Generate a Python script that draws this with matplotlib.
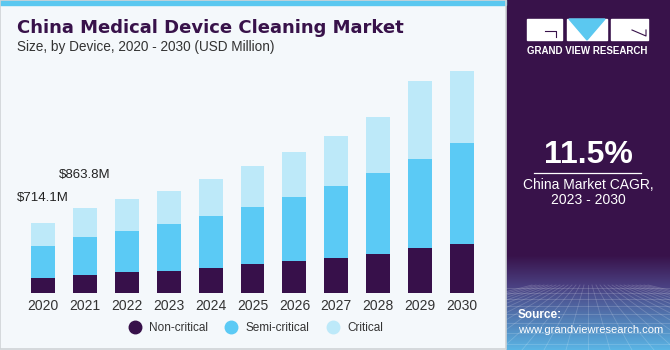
import numpy as np
import matplotlib
matplotlib.use("Agg")
import matplotlib.pyplot as plt
from matplotlib.lines import Line2D
from matplotlib.patches import Rectangle, Polygon
from matplotlib.colors import to_rgb

plt.rcParams['font.family'] = ['Liberation Sans', 'DejaVu Sans']

# data (USD Million)
years = ['2020', '2021', '2022', '2023', '2024', '2025',
         '2026', '2027', '2028', '2029', '2030']
non_critical = [153.0, 184.0, 214, 224, 255, 296, 326, 357, 398, 459, 500]
semi_critical = [326.5, 388.0, 418, 479, 530, 581, 653, 734, 826, 908, 1030]
critical = [234.6, 291.8, 326, 337, 377, 418, 459, 510, 571, 796, 734]
series_names = ['Non-critical', 'Semi-critical', 'Critical']
labels = {0: '$714.1M', 1: '$863.8M'}

c_non = '#37104a'
c_semi = '#5bcaf5'
c_crit = '#bde9f9'
bg = '#f4f8fb'
purple = '#38124a'

W, H = 670, 350
fig = plt.figure(figsize=(W / 100, H / 100), dpi=100)
fig.patch.set_facecolor(bg)


def box(x, y, w, h):
    # pixel box (top-left origin) -> figure fraction rect
    return [x / W, 1 - (y + h) / H, w / W, h / H]


# top strip
fig.patches.append(Rectangle((0, 1 - 5 / H), 506 / W, 5 / H,
                             transform=fig.transFigure, color='#5bc8f0', zorder=0))
# thin grey frame
fig.patches.append(Rectangle((0, 1.5 / H), 506 / W, 1 - 1.5 / H,
                             transform=fig.transFigure, fill=False,
                             edgecolor='#cfd3d6', lw=1.2, zorder=0))

# title
fig.text(17 / W, 1 - 28 / H, 'China Medical Device Cleaning Market',
         fontsize=13, fontweight='bold', color=purple, va='center',
         family='DejaVu Sans')
fig.text(17 / W, 1 - 47 / H, 'Size, by Device, 2020 - 2030 (USD Million)',
         fontsize=9.8, color='#333333', va='center')

# bars
ax = fig.add_axes(box(22, 58, 461, 235))
ax.set_facecolor('none')
x = np.arange(len(years))
w = 0.57
b1 = np.array(non_critical)
b2 = b1 + np.array(semi_critical)
ax.bar(x, non_critical, w, color=c_non, linewidth=0)
ax.bar(x, semi_critical, w, bottom=b1, color=c_semi, linewidth=0)
ax.bar(x, critical, w, bottom=b2, color=c_crit, linewidth=0)
ax.set_xlim(-0.5, len(years) - 0.5)
ax.set_ylim(0, 2400)
ax.set_xticks(x)
ax.set_xticklabels(years, fontsize=10, color='#333333')
ax.tick_params(axis='x', length=0, pad=4)
ax.set_yticks([])
for s in ax.spines.values():
    s.set_visible(False)

totals = b2 + np.array(critical)
for i, txt in labels.items():
    ax.annotate(txt, (x[i], totals[i]), xytext=(0, 18 + 6 * i),
                textcoords='offset points',
                ha='center', va='center', fontsize=9.5, color='#222222')

# legend
handles = [Line2D([], [], marker='o', ls='', markersize=9, color=c)
           for c in (c_non, c_semi, c_crit)]
fig.legend(handles, series_names, loc='center', ncol=3,
           bbox_to_anchor=(253 / W, 1 - 328 / H), frameon=False,
           fontsize=8.5, handletextpad=0.2, columnspacing=1.0,
           labelcolor='#333333')

# right panel with gradient
rp = fig.add_axes(box(506, 0, 164, 350))
top = np.array(to_rgb(purple))
mid = np.array(to_rgb('#4a3f80'))
bot = np.array(to_rgb('#5ab6e6'))
rows = []
for yy in range(H):
    if yy < 255:
        c = top
    elif yy < 285:
        t = (yy - 255) / 30
        c = top * (1 - t) + mid * t
    else:
        t = (yy - 285) / 65
        c = mid * (1 - t) + bot * t
    rows.append(c)
grad = np.array(rows)[:, None, :].repeat(2, axis=1)
rp.imshow(grad, aspect='auto', extent=(0, 164, H, 0))
# faint perspective grid
for k in range(-14, 16):
    rp.plot([82 + k * 4, 82 + k * 22], [285, H], color='white', alpha=0.18, lw=0.6)
for yy in [288, 293, 299, 306, 314, 323, 333, 344]:
    rp.plot([0, 164], [yy, yy], color='white', alpha=0.18, lw=0.6)
rp.set_xlim(0, 164)
rp.set_ylim(H, 0)
rp.axis('off')

# logo and texts
lg = fig.add_axes(box(506, 0, 164, 350))
lg.set_xlim(506, 670)
lg.set_ylim(H, 0)
lg.axis('off')
lg.add_patch(Rectangle((527, 19), 35, 21, color='white'))
lg.add_patch(Rectangle((567, 19), 40, 21, color='white'))
lg.add_patch(Polygon([(569, 19), (605, 19), (587, 40)], color='#5bc8f0'))
lg.add_patch(Rectangle((611, 19), 37, 21, color='white'))
lg.plot([545, 556, 556], [31, 31, 37], color=purple, lw=0.8)
lg.plot([632, 646, 646], [30, 36, 30], color=purple, lw=0.8)
lg.text(587.5, 51, 'GRAND VIEW RESEARCH', ha='center', va='center',
        fontsize=7, fontweight='bold', color='white')

lg.text(588, 155, '11.5%', ha='center', va='center', fontsize=23,
        fontweight='bold', color='white')
lg.plot([534, 641], [173, 173], color='white', lw=0.9)
lg.text(588, 185, 'China Market CAGR,', ha='center', va='center',
        fontsize=10, color='white')
lg.text(588, 200, '2023 - 2030', ha='center', va='center',
        fontsize=10, color='white')
lg.text(518, 315, 'Source:', ha='left', va='center', fontsize=8.5,
        fontweight='bold', color='white')
lg.text(518, 330, 'www.grandviewresearch.com', ha='left', va='center',
        fontsize=8, color='white')

fig.savefig('out.png', dpi=100, facecolor=fig.get_facecolor())
